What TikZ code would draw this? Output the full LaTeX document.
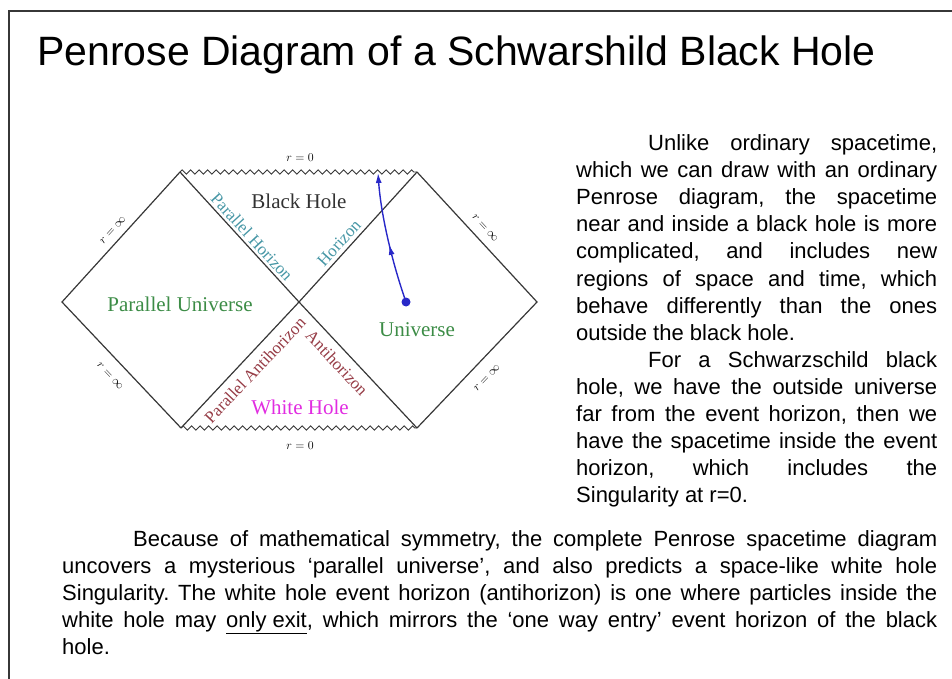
\documentclass[tikz,border=0pt]{standalone}
\usepackage{fontspec}
\setmainfont{Liberation Sans}
\newfontfamily\diagfont{Liberation Serif}
\usetikzlibrary{arrows.meta,decorations.pathmorphing,decorations.markings}
\definecolor{edgecol}{RGB}{55,55,55}
\definecolor{horizoncol}{RGB}{70,150,165}
\definecolor{antihorcol}{RGB}{150,60,70}
\definecolor{univcol}{RGB}{60,140,70}
\definecolor{whitecol}{RGB}{225,45,225}
\definecolor{holecol}{RGB}{50,50,50}
\definecolor{pathcol}{RGB}{40,40,200}
\tolerance=9999
\hbadness=10000
\hyphenpenalty=10000
\frenchspacing

\begin{document}
\begin{tikzpicture}[x=1pt, y=-1pt,
  edge/.style={edgecol, line width=1.2pt},
  sing/.style={edgecol, line width=0.9pt, decorate,
    decoration={zigzag, segment length=8.5pt, amplitude=2.2pt}},
  region/.style={font=\diagfont\fontsize{21}{21}\selectfont, inner sep=0pt},
  horlabel/.style={font=\diagfont\fontsize{17}{17}\selectfont, inner sep=0pt},
  rlabel/.style={font=\fontsize{13}{13}\selectfont, inner sep=0pt},
  bodytext/.style={font=\fontsize{22}{27}\selectfont, align=justify,
    inner sep=0pt, anchor=base west}]
  \useasboundingbox (0,0) rectangle (952,679);

  % Slide frame and title
  \draw[edgecol, line width=1.3pt] (9,679) -- (9,11) -- (952,11);
  \node[anchor=base west, inner sep=0pt, font=\fontsize{41}{41}\selectfont] (title) at (37,66)
    {Penrose Diagram of a Schwarshild Black Hole};

  % Corners of the diagram
  \coordinate (L) at (62,302);
  \coordinate (TL) at (180,172);
  \coordinate (TR) at (417,172);
  \coordinate (C) at (299,302);
  \coordinate (R) at (537,302);
  \coordinate (BL) at (181,428);
  \coordinate (BR) at (417,428);

  % Null boundaries and horizons
  \draw[edge] (TL) -- (L) -- (BL);
  \draw[edge] (TR) -- (R) -- (BR);
  \draw[edge] (TL) -- (C) -- (BR);
  \draw[edge] (TR) -- (C) -- (BL);

  % Singularities
  \draw[sing] (TL) -- (TR);
  \draw[sing] (BL) -- (BR);
  \node[rlabel] (sing top) at (300,158) {$r=0$};
  \node[rlabel] (sing bot) at (300,446) {$r=0$};

  % Infinity labels
  \node[rlabel, rotate=47.8] (inf tl) at (113,230) {$r=\infty$};
  \node[rlabel, rotate=-47.3] (inf tr) at (485,228) {$r=\infty$};
  \node[rlabel, rotate=-46.6] (inf bl) at (110,376) {$r=\infty$};
  \node[rlabel, rotate=46.4] (inf br) at (487,378) {$r=\infty$};

  % Horizons
  \node[horlabel, horizoncol, rotate=-47.5] (par hor) at (252,237) {Parallel Horizon};
  \node[horlabel, horizoncol, rotate=47.8] (hor) at (339,243) {Horizon};
  \node[horlabel, antihorcol, rotate=46.6] (par antihor) at (255,370) {Parallel Antihorizon};
  \node[horlabel, antihorcol, rotate=-47] (antihor) at (337,363) {Antihorizon};

  % Regions
  \node[region, holecol] (black hole) at (299,201) {Black Hole};
  \node[region, univcol] (par univ) at (180,304) {Parallel Universe};
  \node[region, univcol] (univ) at (417,330) {Universe};
  \node[region, whitecol] (white hole) at (300,407) {White Hole};

  % Infalling observer
  \node[circle, fill=pathcol, inner sep=0pt, minimum size=9pt] (obs) at (406,302) {};
  \coordinate (hit) at (378,173);
  \draw[pathcol, line width=1.4pt, -{Latex[length=10pt,width=6pt]}, postaction=decorate,
    decoration={markings, mark=at position 0.45 with {\arrow{Latex[length=10pt,width=6pt]}}}]
    (obs.center) .. controls (392,262) and (381,215) .. (hit);

  % Text beside and below
  \node[bodytext, text width=361pt] (intro) at (576,151)
    {\hspace*{72pt}Unlike ordinary spacetime,\linebreak
     which we can draw with an ordinary\linebreak
     Penrose diagram, the spacetime\linebreak
     near and inside a black hole is more\linebreak
     complicated, and includes new\linebreak
     regions of space and time, which\linebreak
     behave differently than the ones\linebreak
     outside the black hole.\par
     \hspace*{72pt}For a Schwarzschild black\linebreak
     hole, we have the outside universe\linebreak
     far from the event horizon, then we\linebreak
     have the spacetime inside the event\linebreak
     horizon, which includes the\linebreak
     Singularity at r=0.};
  \node[bodytext, text width=875pt] (outro) at (62,546)
    {\hspace*{71pt}Because of mathematical symmetry, the complete Penrose spacetime diagram\linebreak
     uncovers a mysterious ‘parallel universe’, and also predicts a space-like white hole\linebreak
     Singularity. The white hole event horizon (antihorizon) is one where particles inside the\linebreak
     white hole may \underline{only exit}, which mirrors the ‘one way entry’ event horizon of the black\linebreak
     hole.};
\end{tikzpicture}
\end{document}
